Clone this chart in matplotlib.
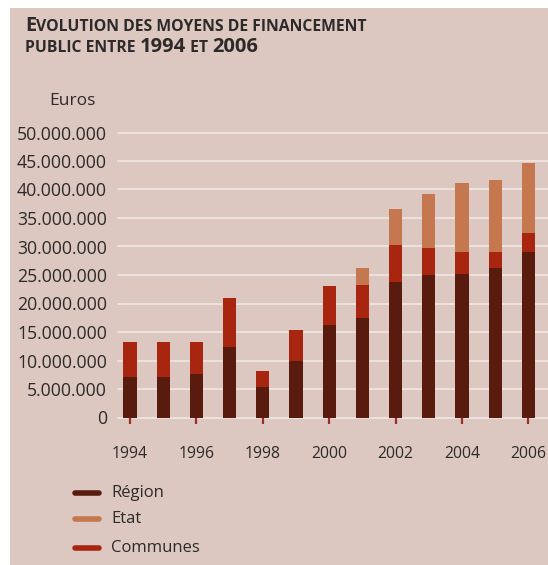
import matplotlib
matplotlib.use("Agg")
import matplotlib.pyplot as plt
from matplotlib.patches import Rectangle
from matplotlib.lines import Line2D

# Public funding by source, in euros
years = [1994, 1995, 1996, 1997, 1998, 1999, 2000, 2001, 2002, 2003, 2004, 2005, 2006]
region = [7.1e6, 7.1e6, 7.6e6, 12.4e6, 5.3e6, 10.0e6, 16.2e6, 17.4e6, 23.7e6, 25.0e6, 25.1e6, 26.3e6, 29.1e6]
communes = [6.2e6, 6.2e6, 5.7e6, 8.6e6, 2.9e6, 5.3e6, 6.9e6, 5.8e6, 6.6e6, 4.7e6, 3.9e6, 2.7e6, 3.3e6]
etat = [0, 0, 0, 0, 0, 0, 0, 3.1e6, 6.2e6, 9.5e6, 12.1e6, 12.7e6, 12.3e6]

ytick_values = [0, 5e6, 10e6, 15e6, 20e6, 25e6, 30e6, 35e6, 40e6, 45e6, 50e6]
ytick_labels = ["0", "5.000.000", "10.000.000", "15.000.000", "20.000.000", "25.000.000",
                "30.000.000", "35.000.000", "40.000.000", "45.000.000", "50.000.000"]
xtick_years = [1994, 1996, 1998, 2000, 2002, 2004, 2006]

C_REGION = "#5a1b0f"
C_COMMUNES = "#a8260f"
C_ETAT = "#c5784f"
BG = "#dcc8c0"
TXT = "#2e2a2a"
FONT = "Open Sans"

W, H = 548, 565
fig = plt.figure(figsize=(W / 100, H / 100), dpi=100)
fig.patch.set_facecolor("white")

# paper background panel
fig.add_artist(Rectangle((10 / W, 0), 1, 1 - 8 / H, transform=fig.transFigure,
                         facecolor=BG, edgecolor="none", zorder=-10))

# axes: x from 118 px to the right edge, y zero at 417.5 px, 50M at 132.5 px
ax_left, ax_right = 118, 548
y0_px, ytop_px = 417.5, 132.5
ax = fig.add_axes([ax_left / W, 1 - y0_px / H, (ax_right - ax_left) / W, (y0_px - ytop_px) / H])
ax.set_facecolor("none")

px_per_year = 33.2
x_first = 130
ax.set_xlim(1994 - (x_first - ax_left) / px_per_year, 1994 + (ax_right - x_first) / px_per_year)
ax.set_ylim(0, 50e6)

for v in ytick_values:
    ax.axhline(v, color="white", lw=1.1, alpha=0.6, zorder=0, clip_on=False)

bw = 0.4
bottom2 = [r + c for r, c in zip(region, communes)]
ax.bar(years, region, width=bw, color=C_REGION, zorder=2)
ax.bar(years, communes, width=bw, bottom=region, color=C_COMMUNES, zorder=2)
ax.bar(years, etat, width=bw, bottom=bottom2, color=C_ETAT, zorder=2)

for s in ax.spines.values():
    s.set_visible(False)

ax.set_yticks(ytick_values)
ax.set_yticklabels(ytick_labels, fontfamily=FONT)
ax.tick_params(axis="y", length=0, pad=8, labelsize=12.7, labelcolor=TXT)

ax.set_xticks(xtick_years)
ax.set_xticklabels([str(y) for y in xtick_years], fontfamily=FONT)
ax.tick_params(axis="x", direction="out", length=4.5, width=1.6, color="#a32a2a",
               pad=16, labelsize=11.3, labelcolor=TXT)

fig.text(49 / W, 1 - 101 / H, "Euros", fontsize=12.5, family=FONT, color=TXT, va="center")

# small-caps title built from pieces of two sizes
renderer = fig.canvas.get_renderer()


def small_caps_line(x_px, baseline_px, pieces):
    x = x_px
    for txt, big in pieces:
        t = fig.text(x / W, 1 - baseline_px / H, txt, fontsize=14.5 if big else 11.3,
                     family=FONT, weight="bold", color=TXT, va="baseline", ha="left")
        bb = t.get_window_extent(renderer=renderer)
        x += bb.width


small_caps_line(25, 31, [("E", True), ("VOLUTION DES MOYENS DE FINANCEMENT", False)])
small_caps_line(25, 52, [("PUBLIC ENTRE ", False), ("1994", True), (" ET ", False), ("2006", True)])

# legend
legend_items = [("Région", C_REGION, 493), ("Etat", C_ETAT, 519), ("Communes", C_COMMUNES, 548)]
for label, col, ypx in legend_items:
    fig.add_artist(Line2D([75 / W, 99 / W], [1 - ypx / H, 1 - ypx / H], transform=fig.transFigure,
                          color=col, lw=4, solid_capstyle="round"))
    fig.text(111 / W, 1 - ypx / H, label, fontsize=12, family=FONT, color=TXT, va="center")

fig.savefig("out.png", dpi=100, facecolor=fig.get_facecolor())
